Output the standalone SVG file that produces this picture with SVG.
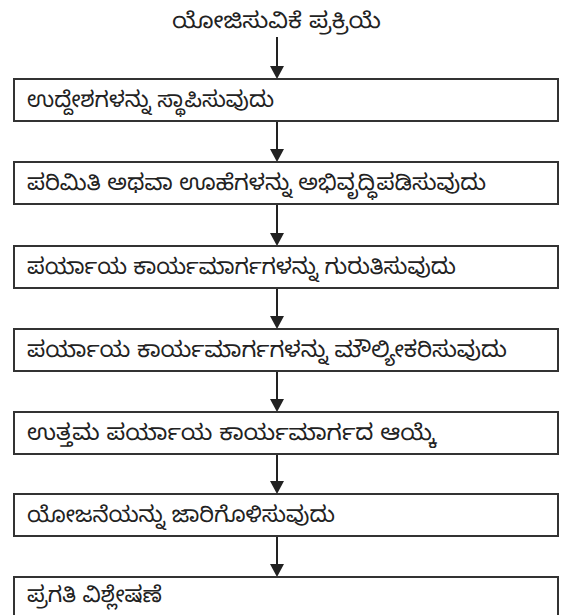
<svg xmlns="http://www.w3.org/2000/svg" width="563" height="615" viewBox="0 0 563 615">
<defs>
<style>
.box{fill:#fff;stroke:#333;stroke-width:2}
.t{font-family:"Noto Sans Kannada","Noto Sans","DejaVu Sans",sans-serif;font-size:22px;fill:#222}
.c{stroke:#222;stroke-width:2;fill:none}
.h{fill:#222}
</style>
</defs>
<rect width="563" height="615" fill="#fff"/>
<g id="title"><text class="t" x="172" y="28" textLength="209" lengthAdjust="spacingAndGlyphs">ಯೋಜಿಸುವಿಕೆ ಪ್ರಕ್ರಿಯೆ</text></g>
<g id="connectors">
<line class="c" x1="277" y1="37" x2="277" y2="67"/><polygon class="h" points="270,66 284,66 277,79"/>
<line class="c" x1="277" y1="121" x2="277" y2="150"/><polygon class="h" points="270,149 284,149 277,162"/>
<line class="c" x1="277" y1="204" x2="277" y2="234"/><polygon class="h" points="270,233 284,233 277,246"/>
<line class="c" x1="277" y1="288" x2="277" y2="317"/><polygon class="h" points="270,316 284,316 277,329"/>
<line class="c" x1="277" y1="371" x2="277" y2="400"/><polygon class="h" points="270,399 284,399 277,412"/>
<line class="c" x1="277" y1="454" x2="277" y2="482"/><polygon class="h" points="270,481 284,481 277,494"/>
<line class="c" x1="277" y1="536" x2="277" y2="565"/><polygon class="h" points="270,564 284,564 277,577"/>
</g>
<g id="n1"><rect class="box" x="14" y="79" width="544" height="42"/><text class="t" x="27" y="107" textLength="247" lengthAdjust="spacingAndGlyphs">ಉದ್ದೇಶಗಳನ್ನು ಸ್ಥಾಪಿಸುವುದು</text></g>
<g id="n2"><rect class="box" x="14" y="162" width="544" height="42"/><text class="t" x="27" y="190" textLength="459" lengthAdjust="spacingAndGlyphs">ಪರಿಮಿತಿ ಅಥವಾ ಊಹೆಗಳನ್ನು ಅಭಿವೃದ್ಧಿಪಡಿಸುವುದು</text></g>
<g id="n3"><rect class="box" x="14" y="246" width="544" height="42"/><text class="t" x="27" y="274" textLength="429" lengthAdjust="spacingAndGlyphs">ಪರ್ಯಾಯ ಕಾರ್ಯಮಾರ್ಗಗಳನ್ನು ಗುರುತಿಸುವುದು</text></g>
<g id="n4"><rect class="box" x="14" y="329" width="544" height="42"/><text class="t" x="27" y="357" textLength="480" lengthAdjust="spacingAndGlyphs">ಪರ್ಯಾಯ ಕಾರ್ಯಮಾರ್ಗಗಳನ್ನು ಮೌಲ್ಯೀಕರಿಸುವುದು</text></g>
<g id="n5"><rect class="box" x="14" y="412" width="544" height="42"/><text class="t" x="27" y="440" textLength="409" lengthAdjust="spacingAndGlyphs">ಉತ್ತಮ ಪರ್ಯಾಯ ಕಾರ್ಯಮಾರ್ಗದ ಆಯ್ಕೆ</text></g>
<g id="n6"><rect class="box" x="14" y="494" width="544" height="42"/><text class="t" x="27" y="522" textLength="308" lengthAdjust="spacingAndGlyphs">ಯೋಜನೆಯನ್ನು ಜಾರಿಗೊಳಿಸುವುದು</text></g>
<g id="n7"><rect class="box" x="14" y="577" width="544" height="42"/><text class="t" x="27" y="602" textLength="135" lengthAdjust="spacingAndGlyphs">ಪ್ರಗತಿ ವಿಶ್ಲೇಷಣೆ</text></g>
</svg>
